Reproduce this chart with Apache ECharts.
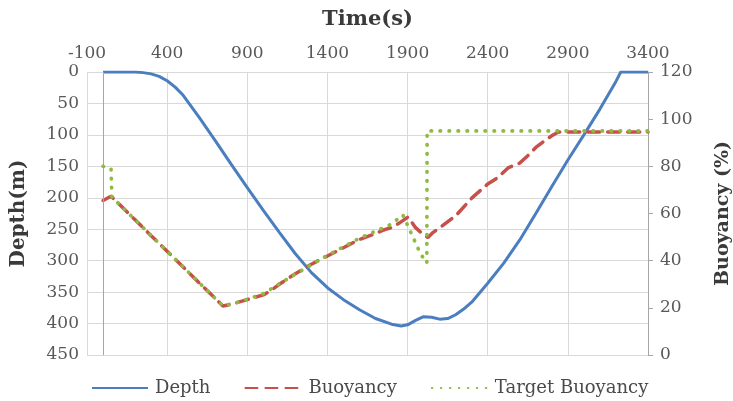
<!DOCTYPE html>
<html>
<head>
<meta charset="utf-8">
<script src="https://cdn.jsdelivr.net/npm/echarts@6/dist/echarts.min.js"></script>
<style>
  html, body { margin: 0; padding: 0; background: #ffffff; }
  #chart { width: 733px; height: 401px; }
</style>
</head>
<body>
<div id="chart"></div>
<script>
// Dive profile: depth (m, left axis, inverted) and buoyancy (%, right axis) over time (s)
const depthTime  = [0, 100, 200, 250, 300, 350, 400, 450, 500, 600, 700, 800, 900, 1000, 1100, 1200, 1300, 1400, 1500, 1600, 1700, 1800, 1860, 1900, 1950, 2000, 2050, 2100, 2150, 2200, 2250, 2300, 2400, 2500, 2600, 2700, 2800, 2900, 3000, 3100, 3200, 3230, 3300, 3400];
const depthValue = [0, 0, 0, 1, 3, 7, 14, 24, 37, 72, 109, 147, 184, 220, 255, 289, 319, 343, 362, 378, 392, 401, 404, 402, 395, 389, 390, 393, 392, 386, 377, 366, 336, 304, 267, 225, 182, 140, 100, 59, 15, 0, 0, 0];

const buoyancyTime  = [0, 50, 100, 200, 300, 400, 500, 600, 700, 748, 800, 900, 1000, 1040, 1100, 1200, 1300, 1400, 1500, 1600, 1700, 1750, 1800, 1850, 1903, 1950, 2000, 2027, 2060, 2115, 2200, 2300, 2400, 2458, 2530, 2600, 2650, 2700, 2745, 2800, 2840, 3400];
const buoyancyValue = [65.5, 67.3, 64, 57.3, 50.6, 44, 37.3, 30.6, 24, 20.8, 21.5, 23.5, 25.5, 27, 30, 34.5, 38.5, 42, 45.5, 49, 51.5, 53, 54, 56, 58.5, 54, 51, 49.8, 52, 54.7, 59, 66.5, 72.5, 75, 79.5, 81.4, 84.5, 88, 90.3, 93, 94.6, 94.6];

const targetTime  = [0, 50, 55, 748, 850, 1000, 1100, 1400, 1600, 1700, 1800, 1870, 1900, 1940, 1980, 2020, 2022, 3400];
const targetValue = [80, 79, 67, 20.8, 22.5, 26, 30.2, 42.3, 49.5, 52.5, 55.5, 59.4, 55, 49, 43, 39, 95, 95];

const timeTicks = { min: -100, max: 3400, step: 500 };
const depthTicks = { min: 0, max: 450, step: 50 };
const buoyancyTicks = { min: 0, max: 120, step: 20 };

const pair = (xs, ys) => xs.map((x, i) => [x, ys[i]]);
const plain = v => String(v);

const FONT = '"DejaVu Serif", "Liberation Serif", serif';
const labelColor = '#595959';
const titleColor = '#3a3a3a';
const gridColor = '#d9d9d9';
const axisGrey = '#a6a6a6';

const chart = echarts.init(document.getElementById('chart'), null, { renderer: 'canvas' });

chart.setOption({
  animation: false,
  backgroundColor: '#ffffff',
  textStyle: { fontFamily: FONT },
  grid: { left: 87, right: 85, top: 72, bottom: 46, containLabel: false, outerBoundsMode: 'none' },
  legend: {
    left: 86,
    top: 374,
    itemWidth: 56,
    itemHeight: 14,
    itemGap: 34,
    itemStyle: { opacity: 0 },
    textStyle: { fontFamily: FONT, fontSize: 18, color: '#4a4a4a', padding: [0, 0, 0, 2] },
    data: ['Depth', 'Buoyancy', 'Target Buoyancy']
  },
  xAxis: {
    type: 'value',
    position: 'top',
    min: timeTicks.min,
    max: timeTicks.max,
    interval: timeTicks.step,
    name: 'Time(s)',
    nameLocation: 'middle',
    nameGap: 42,
    nameTextStyle: { fontFamily: FONT, fontSize: 21, fontWeight: 'bold', color: titleColor },
    axisLine: { show: false },
    axisTick: { show: false },
    axisLabel: { fontFamily: FONT, fontSize: 17, color: labelColor, margin: 10, formatter: plain },
    splitLine: { show: true, lineStyle: { color: gridColor, width: 1 } }
  },
  yAxis: [
    {
      type: 'value',
      position: 'left',
      inverse: true,
      min: depthTicks.min,
      max: depthTicks.max,
      interval: depthTicks.step,
      name: 'Depth(m)',
      nameLocation: 'middle',
      nameRotate: 90,
      nameGap: 58,
      nameTextStyle: { fontFamily: FONT, fontSize: 20, fontWeight: 'bold', color: titleColor },
      axisLine: { show: false },
      axisTick: { show: false },
      axisLabel: { fontFamily: FONT, fontSize: 17, color: labelColor, margin: 8, formatter: plain },
      splitLine: { show: true, lineStyle: { color: gridColor, width: 1 } }
    },
    {
      type: 'value',
      position: 'right',
      min: buoyancyTicks.min,
      max: buoyancyTicks.max,
      interval: buoyancyTicks.step,
      name: 'Buoyancy (%)',
      nameLocation: 'middle',
      nameRotate: 90,
      nameGap: 66,
      nameTextStyle: { fontFamily: FONT, fontSize: 19, fontWeight: 'bold', color: titleColor },
      axisLine: { show: true, lineStyle: { color: axisGrey, width: 1 } },
      axisTick: { show: true, length: 5, lineStyle: { color: axisGrey } },
      axisLabel: { fontFamily: FONT, fontSize: 17, color: labelColor, margin: 12, formatter: plain },
      splitLine: { show: false }
    }
  ],
  series: [
    {
      name: 'Depth',
      type: 'line',
      yAxisIndex: 0,
      data: pair(depthTime, depthValue),
      symbol: 'none',
      smooth: false,
      lineStyle: { color: '#4a7ebf', width: 3 },
      itemStyle: { color: '#4a7ebf' },
      z: 3,
      markLine: {
        silent: true,
        symbol: 'none',
        label: { show: false },
        lineStyle: { color: axisGrey, width: 1, type: 'solid' },
        data: [{ xAxis: 0 }]
      }
    },
    {
      name: 'Buoyancy',
      type: 'line',
      yAxisIndex: 1,
      data: pair(buoyancyTime, buoyancyValue),
      symbol: 'none',
      lineStyle: { color: '#c8504b', width: 3.5, type: [12, 8], cap: 'round' },
      itemStyle: { color: '#c8504b' },
      z: 4
    },
    {
      name: 'Target Buoyancy',
      type: 'line',
      yAxisIndex: 1,
      data: pair(targetTime, targetValue),
      symbol: 'none',
      lineStyle: { color: '#8dbb3f', width: 3.7, type: [0.5, 8.5], cap: 'round' },
      itemStyle: { color: '#8dbb3f' },
      z: 5
    }
  ]
});
</script>
</body>
</html>
